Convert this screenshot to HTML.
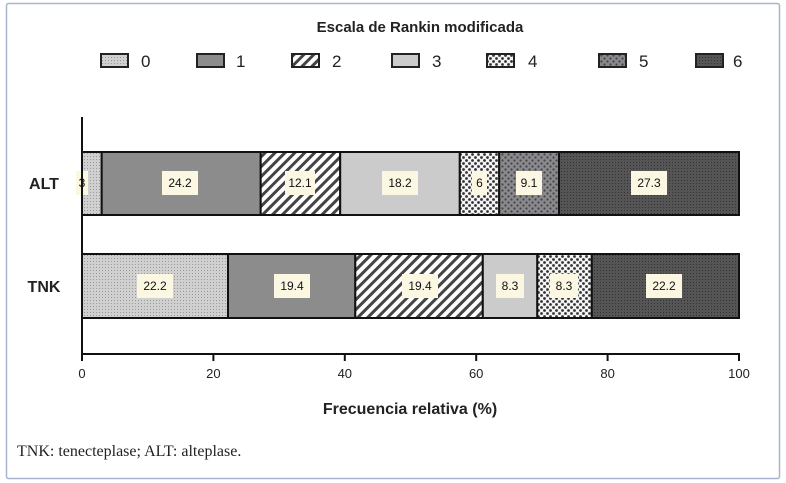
<!DOCTYPE html>
<html><head><meta charset="utf-8"><style>
html,body{margin:0;padding:0;background:#fff;}
svg{display:block;font-family:"Liberation Sans",Arial,sans-serif;}
</style></head><body>
<svg width="786" height="483" viewBox="0 0 786 483" xmlns="http://www.w3.org/2000/svg">
<defs>
<pattern id="p0" width="3" height="3" patternUnits="userSpaceOnUse"><rect width="3" height="3" fill="#d0d0d0"/><rect width="1" height="1" fill="#999"/></pattern>
<pattern id="p2" width="7" height="7" patternUnits="userSpaceOnUse" patternTransform="rotate(45)"><rect width="7" height="7" fill="#fff"/><rect width="3" height="7" fill="#444"/></pattern>
<pattern id="p4" width="6" height="6" patternUnits="userSpaceOnUse"><rect width="6" height="6" fill="#f4f4f4"/><circle cx="1.5" cy="1.5" r="1.4" fill="#333"/><circle cx="4.5" cy="4.5" r="1.4" fill="#333"/></pattern>
<pattern id="p5" width="6" height="6" patternUnits="userSpaceOnUse"><rect width="6" height="6" fill="#8a8a8e"/><circle cx="1.5" cy="1.5" r="1.1" fill="#444"/><circle cx="4.5" cy="4.5" r="1.1" fill="#444"/></pattern>
<pattern id="p6" width="3" height="3" patternUnits="userSpaceOnUse"><rect width="3" height="3" fill="#555"/><rect width="1" height="1" fill="#333"/></pattern>
</defs>
<rect x="6.5" y="3.5" width="773" height="475" fill="#fff" stroke="#a9b4cf" stroke-width="1.5" rx="2"/>
<text x="420" y="32" font-size="15" font-weight="bold" text-anchor="middle" fill="#222">Escala de Rankin modificada</text>
<g stroke="#222" stroke-width="2">
<rect x="101" y="54" width="27" height="13" fill="url(#p0)"/>
<rect x="197" y="54" width="27" height="13" fill="#8c8c8c"/>
<rect x="292" y="54" width="27" height="13" fill="url(#p2)"/>
<rect x="392" y="54" width="27" height="13" fill="#cbcbcb"/>
<rect x="487" y="54" width="27" height="13" fill="url(#p4)"/>
<rect x="599" y="54" width="27" height="13" fill="url(#p5)"/>
<rect x="696" y="54" width="27" height="13" fill="url(#p6)"/>
</g>
<g font-size="17" fill="#222">
<text x="141" y="67">0</text><text x="236" y="67">1</text><text x="332" y="67">2</text>
<text x="432" y="67">3</text><text x="528" y="67">4</text><text x="639" y="67">5</text><text x="733" y="67">6</text>
</g>
<g stroke="#111" stroke-width="2">
<rect x="82" y="152" width="19.7" height="63" fill="url(#p0)"/>
<rect x="101.7" y="152" width="159" height="63" fill="#8c8c8c"/>
<rect x="260.7" y="152" width="79.5" height="63" fill="url(#p2)"/>
<rect x="340.2" y="152" width="119.6" height="63" fill="#cbcbcb"/>
<rect x="459.8" y="152" width="39.4" height="63" fill="url(#p4)"/>
<rect x="499.2" y="152" width="59.8" height="63" fill="url(#p5)"/>
<rect x="559" y="152" width="180" height="63" fill="url(#p6)"/>
<rect x="82" y="254" width="146" height="64" fill="url(#p0)"/>
<rect x="228" y="254" width="127.3" height="64" fill="#8c8c8c"/>
<rect x="355.3" y="254" width="127.5" height="64" fill="url(#p2)"/>
<rect x="482.8" y="254" width="54.5" height="64" fill="#cbcbcb"/>
<rect x="537.3" y="254" width="54.5" height="64" fill="url(#p4)"/>
<rect x="591.8" y="254" width="147.2" height="64" fill="url(#p6)"/>
</g>
<g font-size="12" text-anchor="middle" fill="#111">
<g fill="#fbf7e2"><rect x="76" y="171" width="12" height="24"/><rect x="162" y="171" width="36" height="24"/><rect x="285" y="171" width="30" height="24"/><rect x="382" y="171" width="36" height="24"/><rect x="472" y="171" width="15" height="24"/><rect x="516" y="171" width="26" height="24"/><rect x="631" y="171" width="36" height="24"/>
<rect x="137" y="274" width="36" height="24"/><rect x="274" y="274" width="36" height="24"/><rect x="402" y="274" width="36" height="24"/><rect x="496" y="274" width="28" height="24"/><rect x="550" y="274" width="28" height="24"/><rect x="646" y="274" width="36" height="24"/></g>
<text x="82" y="187">3</text><text x="180" y="187">24.2</text><text x="300" y="187">12.1</text><text x="400" y="187">18.2</text><text x="479.5" y="187">6</text><text x="529" y="187">9.1</text><text x="649" y="187">27.3</text>
<text x="155" y="290">22.2</text><text x="292" y="290">19.4</text><text x="420" y="290">19.4</text><text x="510" y="290">8.3</text><text x="564" y="290">8.3</text><text x="664" y="290">22.2</text>
</g>
<g stroke="#111" stroke-width="2" fill="none">
<line x1="82" y1="117" x2="82" y2="355"/>
<line x1="81" y1="354" x2="740" y2="354"/>
<line x1="82" y1="354" x2="82" y2="361"/><line x1="213.4" y1="354" x2="213.4" y2="361"/><line x1="344.8" y1="354" x2="344.8" y2="361"/><line x1="476.2" y1="354" x2="476.2" y2="361"/><line x1="607.6" y1="354" x2="607.6" y2="361"/><line x1="739" y1="354" x2="739" y2="361"/>
</g>
<g font-size="13" text-anchor="middle" fill="#222">
<text x="82" y="378">0</text><text x="213.4" y="378">20</text><text x="344.8" y="378">40</text><text x="476.2" y="378">60</text><text x="607.6" y="378">80</text><text x="739" y="378">100</text>
</g>
<text x="410" y="414" font-size="16" font-weight="bold" text-anchor="middle" fill="#222">Frecuencia  relativa (%)</text>
<text x="44" y="189" font-size="16" font-weight="bold" text-anchor="middle" fill="#222">ALT</text>
<text x="44" y="292" font-size="16" font-weight="bold" text-anchor="middle" fill="#222">TNK</text>
<text x="17" y="456" font-size="16" font-family="Liberation Serif,serif" fill="#222">TNK: tenecteplase; ALT: alteplase.</text>
</svg>
</body></html>
